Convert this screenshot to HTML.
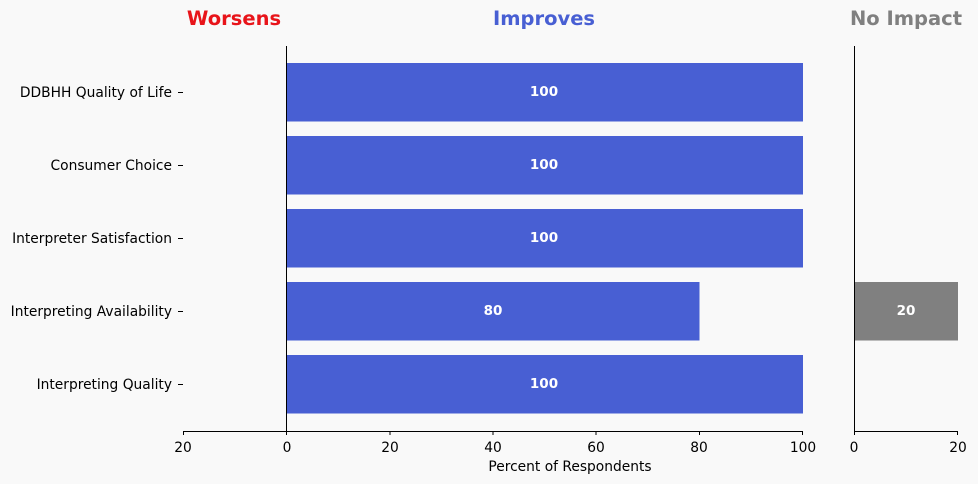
<!DOCTYPE html>
<html><head><style>
html,body{margin:0;padding:0;background:#f9f9f9;}
svg{display:block;font-family:"DejaVu Sans","Liberation Sans",sans-serif;}
</style></head><body>
<svg width="978" height="484" viewBox="0 0 978 484" xmlns="http://www.w3.org/2000/svg">
<rect width="978" height="484" fill="#f9f9f9"/>
<text x="234" y="25" font-size="19.5" font-weight="bold" fill="#e8141a" text-anchor="middle">Worsens</text>
<text x="544" y="25" font-size="19.5" font-weight="bold" fill="#485fd3" text-anchor="middle">Improves</text>
<text x="906" y="25" font-size="19.5" font-weight="bold" fill="#808080" text-anchor="middle">No Impact</text>
<g fill="#485fd3">
<rect x="287" y="63" width="516" height="58.5"/>
<rect x="287" y="136" width="516" height="58.5"/>
<rect x="287" y="209" width="516" height="58.5"/>
<rect x="287" y="282" width="412.5" height="58.5"/>
<rect x="287" y="355" width="516" height="58.5"/>
</g>
<rect x="854" y="282" width="104" height="58.5" fill="#808080"/>
<g font-size="13.5" font-weight="bold" fill="#fff" text-anchor="middle">
<text x="544" y="96">100</text><text x="544" y="169">100</text><text x="544" y="242">100</text>
<text x="493" y="315">80</text><text x="544" y="388">100</text><text x="906" y="315">20</text>
</g>
<g stroke="#000" stroke-width="1">
<line x1="286.5" y1="46" x2="286.5" y2="431"/>
<line x1="854.5" y1="46" x2="854.5" y2="431"/>
<line x1="183" y1="431.5" x2="287" y2="431.5"/>
<line x1="287" y1="431.5" x2="803" y2="431.5"/>
<line x1="854" y1="431.5" x2="958" y2="431.5"/>
<line x1="183.5" y1="431" x2="183.5" y2="435"/>
<line x1="286.5" y1="431" x2="286.5" y2="435"/>
<line x1="390" y1="431" x2="390" y2="435"/>
<line x1="493" y1="431" x2="493" y2="435"/>
<line x1="596" y1="431" x2="596" y2="435"/>
<line x1="699.5" y1="431" x2="699.5" y2="435"/>
<line x1="802.5" y1="431" x2="802.5" y2="435"/>
<line x1="854.5" y1="431" x2="854.5" y2="435"/>
<line x1="957.5" y1="431" x2="957.5" y2="435"/>
<line x1="178" y1="92.5" x2="183" y2="92.5"/>
<line x1="178" y1="165.5" x2="183" y2="165.5"/>
<line x1="178" y1="238.5" x2="183" y2="238.5"/>
<line x1="178" y1="311.5" x2="183" y2="311.5"/>
<line x1="178" y1="384.5" x2="183" y2="384.5"/>
</g>
<g font-size="13.8" fill="#000" text-anchor="middle">
<text x="183" y="452">20</text><text x="287" y="452">0</text><text x="390" y="452">20</text>
<text x="493" y="452">40</text><text x="596" y="452">60</text><text x="699" y="452">80</text>
<text x="803" y="452">100</text><text x="854" y="452">0</text><text x="958" y="452">20</text>
<text x="570" y="471">Percent of Respondents</text>
</g>
<g font-size="13.8" fill="#000" text-anchor="end">
<text x="172" y="97">DDBHH Quality of Life</text>
<text x="172" y="170">Consumer Choice</text>
<text x="172" y="243">Interpreter Satisfaction</text>
<text x="172" y="316">Interpreting Availability</text>
<text x="172" y="389">Interpreting Quality</text>
</g>
</svg>
</body></html>
